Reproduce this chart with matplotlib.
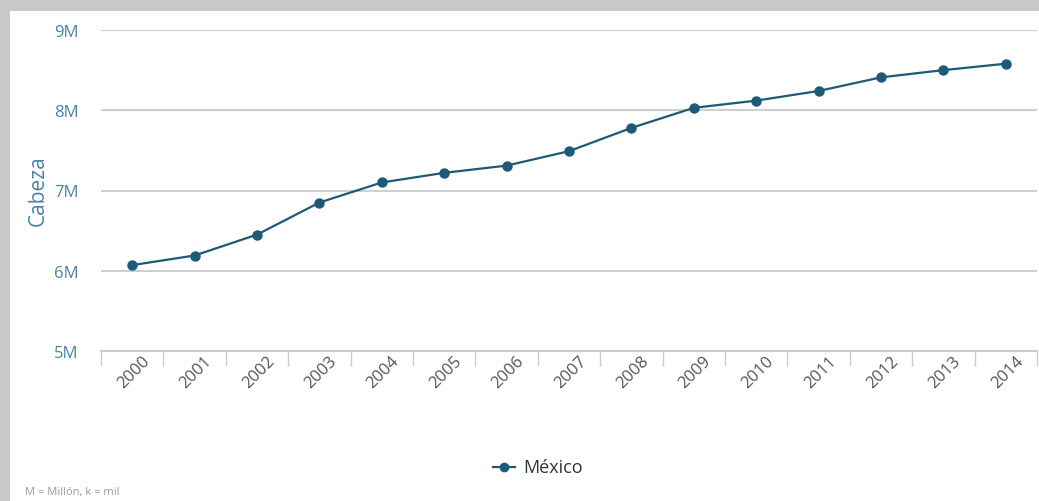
import matplotlib.pyplot as plt
import matplotlib.transforms as mtransforms
from matplotlib.patches import Rectangle
from matplotlib.lines import Line2D
import numpy as np

years = ["2000", "2001", "2002", "2003", "2004", "2005", "2006", "2007",
         "2008", "2009", "2010", "2011", "2012", "2013", "2014"]
cabezas = [6.07, 6.19, 6.45, 6.85, 7.10, 7.22, 7.31, 7.49,
           7.78, 8.03, 8.12, 8.24, 8.41, 8.50, 8.58]  # millones
y_ticks = [5, 6, 7, 8, 9]
y_labels = ["5M", "6M", "7M", "8M", "9M"]

line_color = "#1d5a78"
label_blue = "#4a82a6"

plt.rcParams["font.family"] = ["Open Sans", "DejaVu Sans"]

fig = plt.figure(figsize=(10.39, 5.02), dpi=100)
fig.patch.set_facecolor("#c9c9c9")
# white panel with a soft grey frame on the top and left
fig.patches.append(Rectangle((10 / 1039, 0), 1, 1 - 12 / 502,
                             transform=fig.transFigure,
                             facecolor="white", edgecolor="none", zorder=-10))

ax = fig.add_axes([101 / 1039, 150 / 502, 936 / 1039, 321 / 502])
ax.set_facecolor("none")

x = np.arange(len(years))
ax.plot(x, cabezas, color=line_color, lw=1.6, marker="o", ms=6.5,
        markerfacecolor=line_color, markeredgecolor=line_color, zorder=3)

ax.set_xlim(-0.5, len(years) - 0.5)
ax.set_ylim(5, 9)
ax.set_yticks(y_ticks)
ax.set_yticklabels(y_labels, color=label_blue, fontsize=12)
ax.yaxis.grid(True, color="#cfcfcf", lw=1.5)
ax.tick_params(axis="y", length=0, pad=16)

ax.set_xticks(x)
ax.set_xticklabels(years, rotation=45, ha="right", va="center",
                   rotation_mode="anchor", color="#555555", fontsize=12)
ax.set_xticks(np.arange(-0.5, len(years)), minor=True)
ax.tick_params(axis="x", which="major", length=0, pad=5)
ax.tick_params(axis="x", which="minor", length=11, color="#cccccc", width=1)
offset = mtransforms.ScaledTranslation(15 / 100, 0, fig.dpi_scale_trans)
for lbl in ax.get_xticklabels():
    lbl.set_transform(lbl.get_transform() + offset)

for side in ["top", "right", "left"]:
    ax.spines[side].set_visible(False)
ax.spines["bottom"].set_color("#cccccc")
ax.spines["bottom"].set_linewidth(1.5)

ax.set_axisbelow(True)
fig.text(38 / 1039, 1 - 191 / 502, "Cabeza", rotation=90, ha="center",
         va="center", color=label_blue, fontsize=15)

# legend
fig.add_artist(Line2D([493 / 1039, 504 / 1039, 515 / 1039], [1 - 468 / 502] * 3,
                      transform=fig.transFigure, color=line_color, lw=1.6,
                      marker="o", ms=6, markevery=[1], markerfacecolor=line_color))
fig.text(523 / 1039, 1 - 468 / 502, "México", ha="left", va="center",
         color="#333333", fontsize=13)

fig.text(25 / 1039, 1 - 493 / 502, "M = Millón, k = mil", ha="left",
         va="center", color="#999999", fontsize=8)

fig.savefig("out.png", dpi=100, facecolor=fig.get_facecolor())
